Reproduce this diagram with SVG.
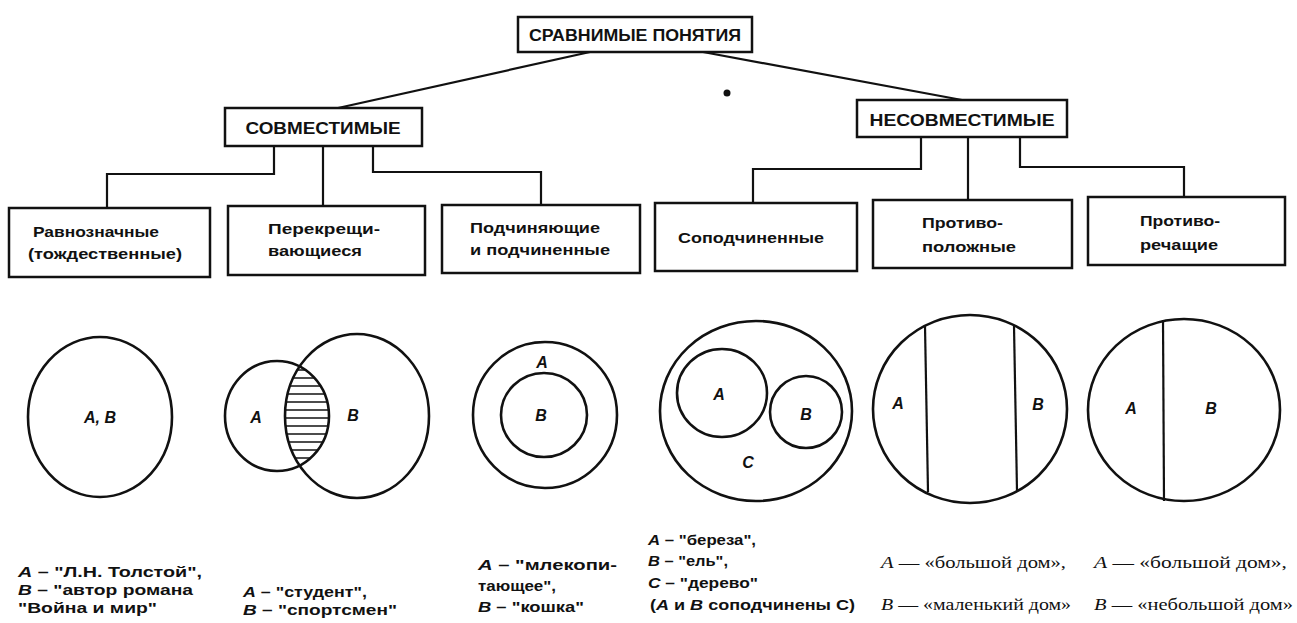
<svg xmlns="http://www.w3.org/2000/svg" width="1297" height="623" viewBox="0 0 1297 623">
<defs>
<style>
.box{fill:#fff;stroke:#111;stroke-width:2.5}
.ln{fill:none;stroke:#111;stroke-width:2.2}
.c{fill:none;stroke:#111;stroke-width:2.6}
.h{font-family:"Liberation Sans",Arial,sans-serif;font-weight:bold;fill:#111}
.t{font-family:"Liberation Sans",Arial,sans-serif;font-weight:bold;font-size:15px;fill:#111}
.v{font-family:"Liberation Sans",Arial,sans-serif;font-style:italic;font-weight:bold;font-size:16px;fill:#111}
.b{font-family:"Liberation Sans",Arial,sans-serif;font-weight:bold;font-size:15px;fill:#111}
.s{font-family:"Liberation Serif","Times New Roman",serif;font-size:16px;fill:#111}
.i{font-style:italic}
</style>
<clipPath id="clipA"><ellipse cx="277" cy="416" rx="52" ry="55"/></clipPath>
<clipPath id="clipB"><ellipse cx="357" cy="416" rx="72" ry="82"/></clipPath>
</defs>
<rect width="1297" height="623" fill="#fff"/>

<g id="connectors">
<line class="ln" x1="590" y1="52" x2="338" y2="108"/>
<line class="ln" x1="703" y1="52" x2="962" y2="100"/>
<polyline class="ln" points="274,146 274,174 107,174 107,208"/>
<polyline class="ln" points="323,146 323,206"/>
<polyline class="ln" points="373,146 373,172 541,172 541,205"/>
<polyline class="ln" points="921,137 921,169 753,169 753,203"/>
<polyline class="ln" points="968,137 968,200"/>
<polyline class="ln" points="1020,137 1020,167 1184,167 1184,197"/>
</g>

<circle cx="727" cy="93" r="3.5" fill="#111"/>

<g id="root"><rect class="box" x="518" y="17" width="234" height="35"/>
<text class="h" x="635" y="41" font-size="16" text-anchor="middle" textLength="212" lengthAdjust="spacingAndGlyphs">СРАВНИМЫЕ ПОНЯТИЯ</text></g>

<g id="compatible"><rect class="box" x="225" y="108" width="197" height="38"/>
<text class="h" x="323" y="134" font-size="17" text-anchor="middle" textLength="155" lengthAdjust="spacingAndGlyphs">СОВМЕСТИМЫЕ</text></g>

<g id="incompatible"><rect class="box" x="857" y="100" width="210" height="37"/>
<text class="h" x="962" y="126" font-size="17" text-anchor="middle" textLength="185" lengthAdjust="spacingAndGlyphs">НЕСОВМЕСТИМЫЕ</text></g>

<g id="equivalent"><rect class="box" x="9" y="208" width="201" height="69"/>
<text class="t" x="33" y="237" textLength="126" lengthAdjust="spacingAndGlyphs">Равнозначные</text>
<text class="t" x="28" y="259" textLength="154" lengthAdjust="spacingAndGlyphs">(тождественные)</text></g>

<g id="crossing"><rect class="box" x="228" y="206" width="197" height="69"/>
<text class="t" x="268" y="234" textLength="112" lengthAdjust="spacingAndGlyphs">Перекрещи-</text>
<text class="t" x="268" y="256" textLength="94" lengthAdjust="spacingAndGlyphs">вающиеся</text></g>

<g id="subordinating"><rect class="box" x="442" y="205" width="198" height="68"/>
<text class="t" x="470" y="233" textLength="130" lengthAdjust="spacingAndGlyphs">Подчиняющие</text>
<text class="t" x="470" y="255" textLength="140" lengthAdjust="spacingAndGlyphs">и подчиненные</text></g>

<g id="cosubordinate"><rect class="box" x="655" y="203" width="202" height="68"/>
<text class="t" x="751" y="243" text-anchor="middle" textLength="146" lengthAdjust="spacingAndGlyphs">Соподчиненные</text></g>

<g id="opposite"><rect class="box" x="873" y="200" width="199" height="68"/>
<text class="t" x="922" y="228" textLength="81" lengthAdjust="spacingAndGlyphs">Противо-</text>
<text class="t" x="922" y="252" textLength="94" lengthAdjust="spacingAndGlyphs">положные</text></g>

<g id="contradictory"><rect class="box" x="1088" y="197" width="197" height="68"/>
<text class="t" x="1140" y="226" textLength="80" lengthAdjust="spacingAndGlyphs">Противо-</text>
<text class="t" x="1140" y="250" textLength="78" lengthAdjust="spacingAndGlyphs">речащие</text></g>

<g id="diagram1">
<ellipse class="c" cx="100" cy="417" rx="72" ry="80"/>
<text class="v" x="100" y="423" text-anchor="middle">A, B</text>
</g>

<g id="diagram2">
<g clip-path="url(#clipA)"><g clip-path="url(#clipB)" stroke="#111" stroke-width="1.6">
<line x1="270" y1="370" x2="340" y2="370"/><line x1="270" y1="378" x2="340" y2="378"/>
<line x1="270" y1="386" x2="340" y2="386"/><line x1="270" y1="394" x2="340" y2="394"/>
<line x1="270" y1="402" x2="340" y2="402"/><line x1="270" y1="410" x2="340" y2="410"/>
<line x1="270" y1="418" x2="340" y2="418"/><line x1="270" y1="426" x2="340" y2="426"/>
<line x1="270" y1="434" x2="340" y2="434"/><line x1="270" y1="442" x2="340" y2="442"/>
<line x1="270" y1="450" x2="340" y2="450"/><line x1="270" y1="458" x2="340" y2="458"/>
<line x1="270" y1="466" x2="340" y2="466"/>
</g></g>
<ellipse class="c" cx="277" cy="416" rx="52" ry="55"/>
<ellipse class="c" cx="357" cy="416" rx="72" ry="82"/>
<text class="v" x="256" y="423" text-anchor="middle">A</text>
<text class="v" x="353" y="421" text-anchor="middle">B</text>
</g>

<g id="diagram3">
<ellipse class="c" cx="545" cy="415" rx="72" ry="73"/>
<ellipse class="c" cx="544" cy="415" rx="43" ry="42"/>
<text class="v" x="542" y="368" text-anchor="middle">A</text>
<text class="v" x="541" y="421" text-anchor="middle">B</text>
</g>

<g id="diagram4">
<ellipse class="c" cx="756" cy="411" rx="96" ry="90"/>
<ellipse class="c" cx="722" cy="393" rx="45" ry="44"/>
<ellipse class="c" cx="806" cy="412" rx="36" ry="36"/>
<text class="v" x="719" y="400" text-anchor="middle">A</text>
<text class="v" x="806" y="420" text-anchor="middle">B</text>
<text class="v" x="748" y="468" text-anchor="middle">C</text>
</g>

<g id="diagram5">
<ellipse class="c" cx="970" cy="409" rx="97" ry="94"/>
<line class="ln" x1="925" y1="326" x2="928" y2="492"/>
<line class="ln" x1="1014" y1="326" x2="1017" y2="491"/>
<text class="v" x="898" y="409" text-anchor="middle">A</text>
<text class="v" x="1038" y="410" text-anchor="middle">B</text>
</g>

<g id="diagram6">
<ellipse class="c" cx="1184" cy="410" rx="96" ry="91"/>
<line class="ln" x1="1163" y1="320" x2="1164" y2="501"/>
<text class="v" x="1131" y="414" text-anchor="middle">A</text>
<text class="v" x="1211" y="414" text-anchor="middle">B</text>
</g>

<g id="examples">
<text class="b" x="18" y="577" textLength="184" lengthAdjust="spacingAndGlyphs"><tspan class="i">A</tspan> – "Л.Н. Толстой",</text>
<text class="b" x="18" y="595" textLength="175" lengthAdjust="spacingAndGlyphs"><tspan class="i">B</tspan> – "автор романа</text>
<text class="b" x="18" y="613" textLength="139" lengthAdjust="spacingAndGlyphs">"Война и мир"</text>

<text class="b" x="243" y="597" textLength="124" lengthAdjust="spacingAndGlyphs"><tspan class="i">A</tspan> – "студент",</text>
<text class="b" x="243" y="615" textLength="154" lengthAdjust="spacingAndGlyphs"><tspan class="i">B</tspan> – "спортсмен"</text>

<text class="b" x="478" y="570" textLength="139" lengthAdjust="spacingAndGlyphs"><tspan class="i">A</tspan> – "млекопи-</text>
<text class="b" x="478" y="591" textLength="78" lengthAdjust="spacingAndGlyphs">тающее",</text>
<text class="b" x="478" y="612" textLength="106" lengthAdjust="spacingAndGlyphs"><tspan class="i">B</tspan> – "кошка"</text>

<text class="b" x="648" y="545" textLength="108" lengthAdjust="spacingAndGlyphs"><tspan class="i">A</tspan> – "береза",</text>
<text class="b" x="648" y="566" textLength="80" lengthAdjust="spacingAndGlyphs"><tspan class="i">B</tspan> – "ель",</text>
<text class="b" x="648" y="588" textLength="110" lengthAdjust="spacingAndGlyphs"><tspan class="i">C</tspan> – "дерево"</text>
<text class="b" x="650" y="610" textLength="205" lengthAdjust="spacingAndGlyphs">(<tspan class="i">A</tspan> и <tspan class="i">B</tspan> соподчинены C)</text>

<text class="s" x="881" y="568" textLength="185" lengthAdjust="spacingAndGlyphs"><tspan class="i">A</tspan> — «большой дом»,</text>
<text class="s" x="881" y="610" textLength="190" lengthAdjust="spacingAndGlyphs"><tspan class="i">B</tspan> — «маленький дом»</text>

<text class="s" x="1094" y="568" textLength="193" lengthAdjust="spacingAndGlyphs"><tspan class="i">A</tspan> — «большой дом»,</text>
<text class="s" x="1094" y="610" textLength="199" lengthAdjust="spacingAndGlyphs"><tspan class="i">B</tspan> — «небольшой дом»</text>
</g>
</svg>
